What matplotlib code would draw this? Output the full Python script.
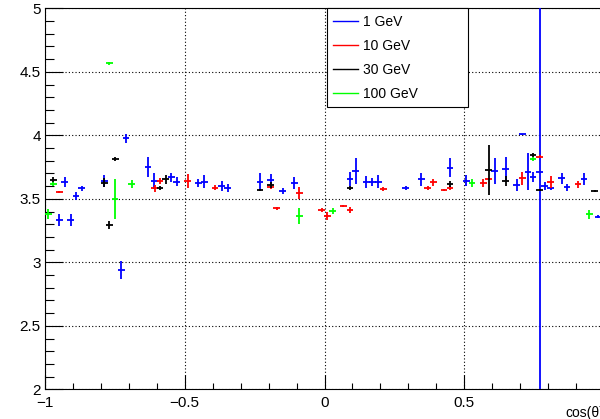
import matplotlib
matplotlib.use("Agg")
import matplotlib.pyplot as plt
from matplotlib.lines import Line2D
from matplotlib.ticker import MultipleLocator

plt.rcParams['font.family'] = ['Liberation Sans', 'DejaVu Sans']

# ---- data ----
x_1gev = [-0.949, -0.930, -0.908, -0.889, -0.869, -0.788, -0.727, -0.710, -0.631, -0.609,
          -0.548, -0.529, -0.452, -0.430, -0.368, -0.347, -0.231, -0.192, -0.150, -0.108,
          0.091, 0.111, 0.150, 0.171, 0.192, 0.290, 0.347, 0.449, 0.508, 0.609,
          0.648, 0.687, 0.708, 0.728, 0.746, 0.770, 0.788, 0.809, 0.848, 0.868,
          0.928, 0.979]
y_1gev = [3.333, 3.630, 3.333, 3.522, 3.583, 3.640, 2.939, 3.976, 3.753, 3.640,
          3.669, 3.635, 3.622, 3.635, 3.603, 3.583, 3.635, 3.648, 3.561, 3.627,
          3.654, 3.721, 3.630, 3.630, 3.635, 3.583, 3.654, 3.745, 3.643, 3.721,
          3.735, 3.609, 4.008, 3.713, 3.669, 3.713, 3.601, 3.583, 3.661, 3.590,
          3.656, 3.359]
e_1gev = [0.049, 0.040, 0.045, 0.029, 0.021, 0.050, 0.072, 0.035, 0.080, 0.066,
          0.037, 0.034, 0.030, 0.052, 0.038, 0.030, 0.066, 0.049, 0.026, 0.047,
          0.055, 0.102, 0.048, 0.030, 0.050, 0.016, 0.050, 0.075, 0.043, 0.102,
          0.092, 0.048, 0.006, 0.144, 0.040, 2.500, 0.035, 0.010, 0.045, 0.026,
          0.046, 0.010]

x_10gev = [-0.949, -0.607, -0.589, -0.490, -0.392, -0.192, -0.171, -0.090, -0.010, 0.010,
           0.067, 0.091, 0.210, 0.369, 0.389, 0.428, 0.449, 0.568, 0.588, 0.708,
           0.770, 0.809, 0.907]
y_10gev = [3.554, 3.583, 3.640, 3.640, 3.587, 3.595, 3.425, 3.543, 3.412, 3.365,
           3.443, 3.412, 3.577, 3.583, 3.630, 3.569, 3.583, 3.622, 3.656, 3.661,
           3.832, 3.630, 3.614]
e_10gev = [0.008, 0.026, 0.024, 0.052, 0.020, 0.016, 0.012, 0.046, 0.012, 0.029,
           0.008, 0.024, 0.012, 0.015, 0.026, 0.010, 0.015, 0.033, 0.010, 0.052,
           0.010, 0.046, 0.026]

x_30gev = [-0.970, -0.788, -0.770, -0.749, -0.589, -0.568, -0.231, -0.192, 0.091, 0.449,
           0.588, 0.648, 0.746, 0.770, 0.967]
y_30gev = [3.648, 3.625, 3.294, 3.816, 3.583, 3.654, 3.569, 3.609, 3.587, 3.617,
           3.726, 3.643, 3.845, 3.569, 3.561]
e_30gev = [0.026, 0.035, 0.033, 0.016, 0.016, 0.035, 0.010, 0.024, 0.016, 0.026,
           0.198, 0.040, 0.016, 0.010, 0.008]

x_100gev = [-0.988, -0.970, -0.770, -0.750, -0.690, -0.090, 0.029, 0.528, 0.746, 0.947]
y_100gev = [3.378, 3.617, 4.569, 3.498, 3.617, 3.367, 3.406, 3.627, 3.811, 3.378]
e_100gev = [0.040, 0.016, 0.012, 0.157, 0.030, 0.062, 0.024, 0.031, 0.016, 0.037]

x_half_width = 0.012

series = [
    ("1 GeV", x_1gev, y_1gev, e_1gev, "#0000ff"),
    ("10 GeV", x_10gev, y_10gev, e_10gev, "#ff0000"),
    ("30 GeV", x_30gev, y_30gev, e_30gev, "#000000"),
    ("100 GeV", x_100gev, y_100gev, e_100gev, "#00ff00"),
]

fig = plt.figure(figsize=(6.0, 4.19), dpi=100)
W, H = 600, 419
left_px, right_px, top_px, bot_px = 45, 604, 8.3, 389.3
ax = fig.add_axes([left_px / W, (H - bot_px) / H, (right_px - left_px) / W, (bot_px - top_px) / H])

handles = []
for label, xs, ys, es, col in series:
    ax.errorbar(xs, ys, yerr=es, xerr=x_half_width, fmt='none', ecolor=col,
                elinewidth=1.3, capsize=0, zorder=3)
    handles.append(Line2D([], [], color=col, lw=1.0, label=label))

ax.set_xlim(-1, 1)
ax.set_ylim(2, 5)
ax.xaxis.set_major_locator(MultipleLocator(0.5))
ax.xaxis.set_minor_locator(MultipleLocator(0.1))
ax.yaxis.set_major_locator(MultipleLocator(0.5))
ax.yaxis.set_minor_locator(MultipleLocator(0.1))
ax.tick_params(axis='both', which='both', direction='in', top=False, right=False, labelsize=11, width=0.8)
ax.tick_params(axis='y', which='major', length=13, pad=3)
ax.tick_params(axis='y', which='minor', length=6.5)
ax.tick_params(axis='x', which='major', length=10, pad=5)
ax.tick_params(axis='x', which='minor', length=4.5)
ax.set_yticks([2, 2.5, 3, 3.5, 4, 4.5, 5])
ax.set_yticklabels(['2', '2.5', '3', '3.5', '4', '4.5', '5'])
ax.set_xticks([-1, -0.5, 0, 0.5, 1])
ax.set_xticklabels(['\u22121', '\u22120.5', '0', '0.5', ''])
ax.grid(True, which='major', color='black', linestyle=(0, (1, 2)), linewidth=0.8)
ax.set_axisbelow(True)
for s in ax.spines.values():
    s.set_linewidth(0.8)

ax.text(1.0, -0.045, "cos(\u03b8)", transform=ax.transAxes, ha='right', va='top', fontsize=10)

leg = ax.legend(handles=handles, loc='upper left',
                bbox_to_anchor=(0.5045, 0.754, 0.2522, 0.246), mode='expand',
                frameon=True, fancybox=False, edgecolor='black', framealpha=1,
                fontsize=10, handlelength=1.8, handletextpad=0.35,
                labelspacing=0.72, borderpad=0.45, borderaxespad=0)
leg.get_frame().set_linewidth(0.8)
leg.set_zorder(5)

fig.savefig("out.png", dpi=100)
